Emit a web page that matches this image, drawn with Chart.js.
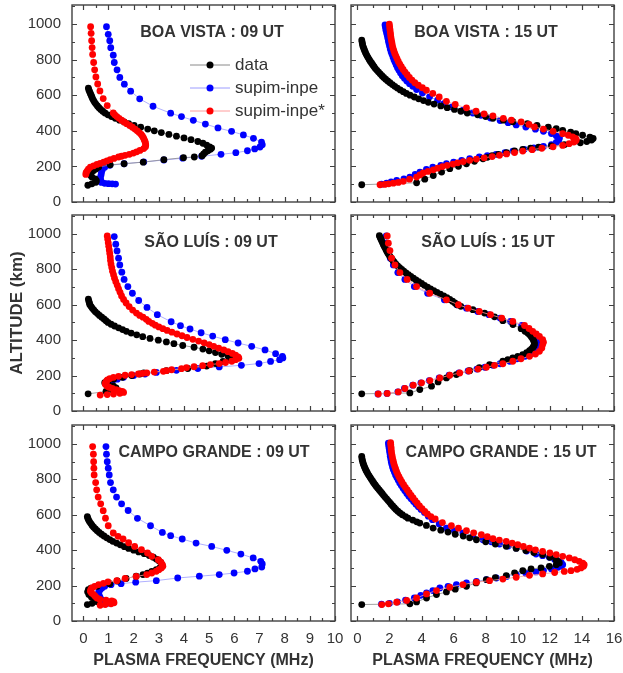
<!DOCTYPE html>
<html>
<head>
<meta charset="utf-8">
<title>Plasma frequency profiles</title>
<script src="https://cdn.jsdelivr.net/npm/chart.js@4.4.0/dist/chart.umd.min.js"></script>
<style>
  body { margin: 0; background: #fff; }
  #wrap { position: relative; width: 623px; height: 673px; }
  #wrap canvas { position: absolute; left: 0; top: 0; }
</style>
</head>
<body>
<div id="wrap"></div>
<script>
// ---- profiles: frequency (MHz) and altitude (km) ----

// Boa Vista 09 UT
const bv09DataAlt = [640,630,620,610,600,590,580,570,560,550,540,530,520,510,500,490,480,470,460,450,440,430,420,410,400,390,380,370,360,350,340,330,320,310,303,296,288,280,270,260,253,249,238,224,215,209,196,186,177,167,158,149,140,130,120,111,102,94];
const bv09DataFreq = [0.20,0.22,0.25,0.28,0.31,0.34,0.37,0.41,0.45,0.50,0.56,0.62,0.69,0.77,0.86,0.98,1.12,1.27,1.44,1.62,1.80,2.02,2.28,2.56,2.82,3.10,3.40,3.70,4.00,4.28,4.55,4.75,4.90,5.02,5.10,5.05,4.95,4.85,4.78,4.72,4.41,3.98,3.20,2.38,1.62,1.07,0.61,0.50,0.41,0.32,0.28,0.30,0.34,0.47,0.52,0.50,0.34,0.18];
const bv09SupAlt = [985,942,906,867,825,784,743,700,662,623,580,538,499,480,459,438,416,397,377,358,337,322,309,298,288,277,268,257,246,236,225,215,206,195,180,165,150,135,120,110,105,103,102,101];
const bv09SupFreq = [0.92,0.99,1.05,1.09,1.19,1.23,1.34,1.45,1.63,1.88,2.24,2.77,3.47,3.90,4.37,4.85,5.35,5.89,6.36,6.76,7.08,7.11,7.02,6.81,6.52,6.06,5.47,4.70,3.95,3.20,2.40,1.62,1.05,0.85,0.75,0.72,0.70,0.68,0.70,0.72,0.85,1.00,1.15,1.28];
const bv09StarAlt = [985,948,906,868,829,784,743,703,663,624,581,542,500,490,480,470,460,450,440,430,420,410,400,390,380,370,360,350,340,330,320,310,300,290,282,275,268,262,257,253,245,238,231,224,217,211,203,196,185,174,165,155];
const bv09StarFreq = [0.29,0.31,0.33,0.35,0.37,0.41,0.45,0.50,0.57,0.66,0.79,0.95,1.19,1.25,1.33,1.42,1.52,1.62,1.72,1.84,1.95,2.05,2.14,2.22,2.30,2.35,2.39,2.42,2.45,2.47,2.48,2.47,2.40,2.25,2.12,1.99,1.83,1.66,1.52,1.40,1.22,1.07,0.94,0.81,0.67,0.54,0.41,0.28,0.20,0.15,0.11,0.10];

// Boa Vista 15 UT
const bv15DataAlt = [910,900,890,880,870,860,850,840,830,820,810,800,790,780,770,760,750,740,730,720,710,700,690,680,670,660,650,640,630,620,610,600,590,580,570,560,550,540,530,520,510,500,490,480,470,460,451,440,430,420,412,403,393,384,375,365,357,348,340,333,322,315,308,302,296,287,277,268,260,251,243,229,215,201,187,168,149,128,108,97];
const bv15DataFreq = [0.27,0.29,0.31,0.33,0.37,0.41,0.45,0.50,0.55,0.61,0.67,0.74,0.81,0.89,0.96,1.04,1.12,1.22,1.32,1.42,1.53,1.64,1.76,1.89,2.03,2.18,2.33,2.49,2.67,2.86,3.05,3.28,3.55,3.82,4.12,4.42,4.78,5.20,5.60,6.05,6.45,6.85,7.50,8.00,8.45,9.10,9.69,10.60,11.20,11.90,12.40,12.80,13.30,13.62,14.04,14.50,14.70,14.60,14.30,13.90,12.90,12.10,11.30,10.80,10.31,9.80,9.30,8.80,8.40,8.10,7.83,7.30,6.80,6.30,5.76,5.25,4.73,4.20,3.69,0.27];
const bv15SupAlt = [995,980,965,950,935,920,905,890,875,860,845,830,815,800,785,770,755,740,725,710,695,680,665,650,632,612,591,572,553,534,516,500,487,472,458,446,433,421,409,397,385,372,360,347,335,322,312,304,296,286,277,268,260,253,243,234,224,215,206,196,183,168,155,140,130,121,113,106,100];
const bv15SupFreq = [1.72,1.75,1.78,1.82,1.86,1.90,1.93,1.97,2.01,2.05,2.10,2.16,2.22,2.28,2.35,2.42,2.50,2.59,2.69,2.80,2.93,3.08,3.25,3.45,3.69,4.05,4.50,5.00,5.40,5.90,6.60,7.20,7.70,8.30,8.90,9.40,9.90,10.50,11.10,11.60,12.10,12.40,12.60,12.55,12.40,12.10,11.60,11.00,10.40,9.70,9.20,8.65,8.10,7.60,7.00,6.50,6.00,5.55,5.20,4.70,4.30,3.90,3.60,3.27,2.90,2.45,2.10,1.82,1.50];
const bv15StarAlt = [1000,985,970,955,940,925,910,895,880,865,850,835,820,805,790,775,760,745,730,715,700,685,670,656,642,628,610,590,566,548,529,510,495,484,470,460,450,436,422,410,397,384,375,366,358,350,343,337,328,318,310,302,294,286,278,270,262,255,248,241,234,227,220,213,206,199,190,181,172,163,152,140,128,116,110,106,102,99,97];
const bv15StarFreq = [1.99,2.01,2.03,2.05,2.07,2.09,2.12,2.15,2.18,2.22,2.27,2.33,2.40,2.47,2.55,2.64,2.74,2.85,2.97,3.10,3.24,3.40,3.58,3.80,4.05,4.30,4.70,5.10,5.55,6.10,6.80,7.40,7.90,8.45,9.10,9.60,10.21,10.70,11.04,11.60,12.20,12.80,13.15,13.42,13.60,13.65,13.60,13.50,13.20,12.80,12.20,11.50,10.90,10.31,9.80,9.30,8.86,8.40,7.90,7.42,7.00,6.60,6.25,5.96,5.60,5.30,5.00,4.73,4.40,4.10,3.90,3.69,3.25,2.86,2.55,2.24,1.95,1.70,1.41];

// Sao Luis 09 UT
const sl09DataAlt = [632,620,610,600,590,580,570,560,550,540,530,520,510,500,490,480,470,460,450,440,430,420,410,400,390,380,370,360,350,340,330,320,310,300,290,280,268,254,240,228,215,209,200,190,180,170,160,150,140,130,120,110,97];
const sl09DataFreq = [0.20,0.22,0.24,0.26,0.31,0.36,0.42,0.48,0.56,0.64,0.73,0.82,0.90,0.98,1.10,1.24,1.40,1.56,1.71,1.90,2.12,2.36,2.65,2.98,3.30,3.60,3.95,4.40,4.75,5.00,5.25,5.50,5.75,5.90,5.80,5.55,5.25,4.90,4.15,3.30,2.40,2.25,1.92,1.55,1.20,0.95,0.85,1.00,1.20,1.30,1.15,0.90,0.19];
const sl09SupAlt = [985,942,904,863,825,784,743,703,665,624,585,544,504,482,463,442,423,403,384,365,345,324,309,300,290,280,268,258,249,240,230,218,209,200,190,180,168,158,150];
const sl09SupFreq = [1.23,1.29,1.34,1.40,1.45,1.53,1.62,1.77,1.95,2.20,2.53,2.94,3.49,3.86,4.24,4.68,5.14,5.64,6.15,6.69,7.22,7.64,7.91,7.93,7.80,7.44,6.98,6.28,5.40,4.55,3.70,2.90,2.45,2.00,1.60,1.35,1.15,1.05,1.10];
const sl09StarAlt = [989,970,950,930,910,890,870,850,830,810,790,770,750,730,710,690,670,650,630,610,590,570,553,540,530,518,506,495,485,475,465,455,445,435,425,415,405,395,385,375,365,355,345,335,325,315,305,298,290,281,274,268,262,256,250,245,239,233,228,224,220,215,212,209,206,202,196,190,183,176,168,158,149,140,134,127,120,115,110,105,100,96,93,90];
const sl09StarFreq = [0.95,0.97,0.99,1.01,1.03,1.05,1.07,1.08,1.10,1.13,1.16,1.20,1.24,1.29,1.35,1.40,1.46,1.52,1.60,1.70,1.82,1.96,2.11,2.24,2.37,2.50,2.60,2.74,2.86,3.00,3.16,3.33,3.52,3.72,3.92,4.12,4.35,4.58,4.80,5.00,5.18,5.38,5.58,5.75,5.92,6.05,6.15,6.18,6.05,5.90,5.65,5.40,5.05,4.74,4.40,4.10,3.90,3.51,3.30,3.18,2.82,2.52,2.35,2.19,1.92,1.66,1.40,1.20,1.05,0.96,0.92,0.87,0.88,0.95,1.02,1.15,1.30,1.42,1.55,1.60,1.45,1.20,0.95,0.67];

// Sao Luis 15 UT
const sl15DataAlt = [990,980,970,960,950,940,930,920,910,900,890,880,870,860,850,840,830,820,810,800,790,780,770,760,750,740,730,720,710,700,690,680,670,660,650,640,630,620,610,600,591,572,553,532,510,488,465,450,440,430,420,410,400,390,380,370,360,350,341,330,318,309,300,290,281,262,245,228,206,187,164,140,121,102,97];
const sl15DataFreq = [1.37,1.42,1.47,1.52,1.57,1.62,1.67,1.73,1.79,1.85,1.91,1.98,2.05,2.13,2.21,2.30,2.40,2.51,2.63,2.76,2.89,3.03,3.18,3.33,3.49,3.65,3.82,4.00,4.18,4.37,4.56,4.76,4.96,5.17,5.38,5.58,5.76,5.93,6.08,6.22,6.45,7.20,7.93,8.55,9.07,9.70,10.21,10.45,10.62,10.74,10.84,10.92,10.98,11.02,11.04,11.02,10.95,10.85,10.73,10.55,10.31,10.00,9.69,9.38,9.07,8.24,7.60,7.00,6.17,5.55,5.03,4.62,3.89,3.27,0.27];
const sl15SupAlt = [989,948,906,863,825,782,743,703,665,628,600,581,562,544,525,506,483,466,450,435,421,403,389,375,356,337,322,309,295,281,267,258,247,237,226,215,202,187,172,159,146,127,108,99,96];
const sl15SupFreq = [1.80,1.86,1.95,2.05,2.24,2.52,2.96,3.55,4.38,5.42,6.20,6.80,7.50,8.20,8.90,9.55,10.25,10.50,10.72,10.92,11.10,11.27,11.30,11.27,11.20,11.05,10.80,10.45,9.95,9.50,8.90,8.45,7.95,7.45,6.90,6.33,5.72,5.10,4.48,3.96,3.45,2.93,2.52,1.84,1.28];
const sl15StarAlt = [989,948,906,863,825,782,743,703,665,628,600,581,562,544,525,506,483,466,450,435,421,403,389,375,356,337,322,309,295,281,267,258,247,237,226,215,202,187,172,159,146,127,108,99,96];
const sl15StarFreq = [1.86,1.93,2.03,2.13,2.34,2.65,3.10,3.69,4.51,5.55,6.30,6.90,7.60,8.30,9.00,9.69,10.42,10.70,10.93,11.15,11.35,11.55,11.60,11.55,11.50,11.35,11.10,10.73,10.20,9.69,9.07,8.55,8.04,7.52,6.95,6.38,5.76,5.14,4.52,4.00,3.48,2.96,2.55,1.86,1.30];

// Campo Grande 09 UT
const cg09DataAlt = [590,580,570,560,550,540,530,520,510,500,490,480,470,460,450,440,430,420,410,400,390,380,370,360,350,340,330,320,310,300,290,280,270,262,253,240,226,211,196,185,177,165,150,135,120,110,100,93];
const cg09DataFreq = [0.16,0.18,0.21,0.25,0.30,0.35,0.41,0.48,0.55,0.63,0.72,0.82,0.93,1.05,1.17,1.32,1.47,1.63,1.80,2.00,2.20,2.42,2.62,2.78,2.90,3.00,3.08,3.12,3.10,3.04,2.90,2.72,2.55,2.37,2.10,1.70,1.35,1.05,0.55,0.30,0.20,0.17,0.22,0.32,0.46,0.52,0.35,0.16];
const cg09SupAlt = [985,942,900,863,825,782,741,700,662,624,580,538,500,482,463,440,421,399,378,356,337,322,305,294,281,271,262,253,243,228,219,211,205,196,187,175,164,150,135,120,108,100];
const cg09SupFreq = [0.90,0.92,0.95,0.99,1.03,1.08,1.19,1.32,1.52,1.78,2.15,2.67,3.14,3.47,3.93,4.48,5.10,5.70,6.26,6.75,7.05,7.11,7.09,6.82,6.52,5.99,5.40,4.61,3.75,2.90,2.08,1.50,1.10,0.85,0.74,0.66,0.61,0.62,0.66,0.72,0.80,0.95];
const cg09StarAlt = [985,942,900,863,825,782,741,700,662,623,581,538,497,478,463,442,421,403,384,365,346,332,318,309,300,290,281,271,262,252,240,228,221,213,206,196,187,178,168,158,149,140,130,122,118,114,109,103,97,93,89];
const cg09StarFreq = [0.37,0.40,0.41,0.42,0.43,0.49,0.53,0.59,0.69,0.79,0.88,0.99,1.19,1.38,1.58,1.80,2.04,2.31,2.55,2.72,2.98,3.08,3.14,3.16,3.10,3.00,2.90,2.72,2.52,2.10,1.66,1.33,0.98,0.80,0.61,0.45,0.34,0.30,0.28,0.33,0.41,0.47,0.54,0.66,0.90,1.13,1.20,1.22,1.10,0.87,0.67];

// Campo Grande 15 UT
const cg15DataAlt = [930,920,910,900,890,880,870,860,850,840,830,820,810,800,790,780,770,760,750,740,730,720,710,700,690,680,670,660,650,640,630,620,610,600,590,581,570,560,553,540,525,513,502,490,480,470,459,447,435,422,410,398,387,375,360,346,337,328,318,309,300,294,284,272,256,245,234,215,196,180,164,149,130,108,97,93];
const cg15DataFreq = [0.27,0.28,0.30,0.33,0.36,0.40,0.44,0.49,0.54,0.60,0.66,0.73,0.80,0.87,0.95,1.02,1.10,1.18,1.27,1.36,1.45,1.54,1.63,1.72,1.82,1.91,2.01,2.10,2.20,2.30,2.40,2.52,2.65,2.80,3.00,3.15,3.45,3.70,3.89,4.30,4.72,5.20,5.65,6.10,6.60,7.00,7.42,8.00,8.60,9.28,9.90,10.50,11.00,11.55,12.00,12.38,12.50,12.59,12.40,11.97,11.45,10.83,10.31,9.80,9.28,8.60,8.04,7.40,6.80,6.10,5.55,4.93,4.31,3.69,3.27,0.27];
const cg15SupAlt = [1005,990,975,960,945,930,915,900,885,870,855,840,825,810,795,780,765,750,735,720,705,690,675,660,645,630,613,592,572,548,525,510,497,478,459,447,435,423,412,395,378,369,360,348,337,328,318,310,303,294,285,277,270,262,252,243,234,224,215,206,196,187,172,159,145,130,118,108,100,95];
const cg15SupFreq = [1.93,1.95,1.98,2.00,2.03,2.05,2.08,2.11,2.15,2.19,2.24,2.31,2.38,2.46,2.55,2.64,2.74,2.85,2.96,3.08,3.21,3.35,3.50,3.65,3.80,3.97,4.18,4.42,4.68,5.10,5.55,6.05,6.58,7.20,7.83,8.35,8.86,9.40,9.90,10.55,11.14,11.55,11.97,12.30,12.59,12.72,12.80,12.70,12.50,12.10,11.60,11.14,10.50,9.90,9.30,8.66,8.05,7.42,6.80,6.17,5.65,5.14,4.70,4.31,3.95,3.55,3.00,2.50,2.00,1.50];
const cg15StarAlt = [1008,995,980,965,950,935,920,905,890,875,860,845,830,815,800,785,770,755,740,725,710,695,680,665,650,635,619,605,590,576,556,538,524,510,498,487,476,465,457,450,440,431,421,412,402,393,384,375,365,356,346,337,327,318,309,300,292,284,280,274,266,258,247,237,228,219,206,191,172,153,130,116,106,97,93];
const cg15StarFreq = [2.07,2.08,2.10,2.11,2.13,2.16,2.19,2.23,2.27,2.32,2.38,2.44,2.51,2.59,2.68,2.77,2.88,2.99,3.11,3.23,3.35,3.47,3.60,3.73,3.87,4.03,4.20,4.36,4.58,4.85,5.30,5.86,6.30,6.80,7.25,7.73,8.10,8.45,8.85,9.28,9.65,10.00,10.35,10.73,11.10,11.55,12.00,12.40,12.80,13.21,13.55,13.83,14.05,14.14,14.10,13.94,13.70,13.32,12.90,12.30,11.55,10.73,9.90,9.07,8.24,7.42,6.58,5.76,4.93,4.31,3.69,3.07,2.45,1.93,1.52];

const seriesNames = ['data', 'supim-inpe', 'supim-inpe*'];
const panelTitles = ['BOA VISTA : 09 UT', 'BOA VISTA : 15 UT', 'SÃO LUÍS : 09 UT', 'SÃO LUÍS : 15 UT', 'CAMPO GRANDE : 09 UT', 'CAMPO GRANDE : 15 UT'];
const altTicks = [0, 200, 400, 600, 800, 1000];

// ---- styling / layout ----
const dotColors = ['#000000', '#0000ff', '#ff0000'];
const lineColors = ['#8a8a8a', '#9c9cff', '#ff9c9c'];
const drawOrder = [1, 2, 0];   // red on top, blue underneath

const PAGE_W = 623, PAGE_H = 673;
const Y_AXIS_W = 72, X_AXIS_H = 50;
const FONT = '"Liberation Sans", Arial, sans-serif';

const columns = [
  { left: 72, right: 335, min: -0.45, max: 10, step: 1, minor: 0.5 },
  { left: 351, right: 614, min: -0.4, max: 16, step: 2, minor: 1 }
];
const rows = [
  { top: 5, bottom: 202 },
  { top: 215, bottom: 411 },
  { top: 425, bottom: 621 }
];
const ALT_MAX = 1107;

const panels = [
  { row: 0, col: 0, titleDx: 140, legend: true,  series: [[bv09DataFreq, bv09DataAlt], [bv09SupFreq, bv09SupAlt], [bv09StarFreq, bv09StarAlt]] },
  { row: 0, col: 1, titleDx: 135, legend: false, series: [[bv15DataFreq, bv15DataAlt], [bv15SupFreq, bv15SupAlt], [bv15StarFreq, bv15StarAlt]] },
  { row: 1, col: 0, titleDx: 139, legend: false, series: [[sl09DataFreq, sl09DataAlt], [sl09SupFreq, sl09SupAlt], [sl09StarFreq, sl09StarAlt]] },
  { row: 1, col: 1, titleDx: 137, legend: false, series: [[sl15DataFreq, sl15DataAlt], [sl15SupFreq, sl15SupAlt], [sl15StarFreq, sl15StarAlt]] },
  { row: 2, col: 0, titleDx: 142, legend: false, series: [[cg09DataFreq, cg09DataAlt], [cg09SupFreq, cg09SupAlt], [cg09StarFreq, cg09StarAlt]] },
  { row: 2, col: 1, titleDx: 150, legend: false, series: [[cg15DataFreq, cg15DataAlt], [cg15SupFreq, cg15SupAlt], [cg15StarFreq, cg15StarAlt]] }
];

// frame, inward ticks on all four sides, panel title and legend
const panelDeco = {
  id: 'panelDeco',
  afterDatasetsDraw(chart, args, opts) {
    const { ctx, chartArea: a, scales: { x, y } } = chart;
    ctx.save();
    ctx.strokeStyle = '#404040';
    ctx.lineWidth = 1.2;
    ctx.beginPath();
    const nx = Math.floor(x.max / opts.xMinor + 1e-6);
    for (let k = 0; k <= nx; k++) {
      const v = k * opts.xMinor;
      const px = Math.round(x.getPixelForValue(v)) + 0.5;
      const len = (Math.abs(v / opts.xStep - Math.round(v / opts.xStep)) < 1e-6) ? 5 : 3;
      ctx.moveTo(px, a.bottom); ctx.lineTo(px, a.bottom - len);
      ctx.moveTo(px, a.top); ctx.lineTo(px, a.top + len);
    }
    for (let v = 0; v <= y.max; v += 100) {
      const py = Math.round(y.getPixelForValue(v)) + 0.5;
      const len = (v % 200 === 0) ? 5 : 3;
      ctx.moveTo(a.left, py); ctx.lineTo(a.left + len, py);
      ctx.moveTo(a.right, py); ctx.lineTo(a.right - len, py);
    }
    ctx.stroke();
    ctx.lineWidth = 1.4;
    ctx.strokeRect(a.left, a.top, a.right - a.left, a.bottom - a.top);

    ctx.fillStyle = '#333';
    ctx.font = 'bold 16px ' + FONT;
    ctx.textAlign = 'center';
    ctx.textBaseline = 'middle';
    ctx.fillText(opts.title, a.left + opts.titleDx, a.top + 28);

    if (opts.legend) {
      ctx.font = '17px ' + FONT;
      ctx.textAlign = 'left';
      seriesNames.forEach((name, i) => {
        const ly = a.top + 60 + i * 23;
        ctx.strokeStyle = lineColors[i];
        ctx.lineWidth = 1;
        ctx.beginPath();
        ctx.moveTo(a.left + 118, ly);
        ctx.lineTo(a.left + 158, ly);
        ctx.stroke();
        ctx.fillStyle = dotColors[i];
        ctx.beginPath();
        ctx.arc(a.left + 138, ly, 3.5, 0, Math.PI * 2);
        ctx.fill();
        ctx.fillStyle = '#333';
        ctx.fillText(name, a.left + 163, ly);
      });
    }
    ctx.restore();
  }
};

const wrap = document.getElementById('wrap');

panels.forEach((p, idx) => {
  const col = columns[p.col];
  const row = rows[p.row];
  const canvas = document.createElement('canvas');
  canvas.width = PAGE_W;
  canvas.height = PAGE_H;
  wrap.appendChild(canvas);

  const datasets = p.series.map((s, i) => ({
    label: seriesNames[i],
    data: s[0].map((f, k) => ({ x: f, y: s[1][k] })),
    showLine: true,
    borderColor: lineColors[i],
    borderWidth: 0.8,
    backgroundColor: dotColors[i],
    pointBackgroundColor: dotColors[i],
    pointBorderWidth: 0,
    pointRadius: 3.4,
    order: drawOrder[i]
  }));

  new Chart(canvas, {
    type: 'scatter',
    data: { datasets },
    options: {
      responsive: false,
      animation: false,
      events: [],
      layout: {
        autoPadding: false,
        padding: {
          left: col.left - Y_AXIS_W,
          right: PAGE_W - col.right,
          top: row.top,
          bottom: PAGE_H - row.bottom - X_AXIS_H
        }
      },
      plugins: {
        legend: { display: false },
        tooltip: { enabled: false },
        panelDeco: {
          title: panelTitles[idx],
          titleDx: p.titleDx,
          legend: p.legend,
          xMinor: col.minor,
          xStep: col.step
        }
      },
      scales: {
        x: {
          type: 'linear',
          position: 'bottom',
          min: col.min,
          max: col.max,
          grid: { display: false, drawTicks: false },
          border: { display: false },
          ticks: {
            display: p.row === 2,
            stepSize: col.step,
            includeBounds: false,
            autoSkip: false,
            maxRotation: 0,
            padding: 9,
            color: '#333',
            font: { size: 15, family: FONT },
            callback: v => String(v)
          },
          title: {
            display: p.row === 2,
            text: 'PLASMA FREQUENCY (MHz)',
            color: '#333',
            font: { size: 16, weight: 'bold', family: FONT },
            padding: { top: 0, bottom: 1 }
          },
          afterFit(s) { s.height = X_AXIS_H; s.paddingLeft = 0; s.paddingRight = 0; }
        },
        y: {
          type: 'linear',
          position: 'left',
          min: 0,
          max: ALT_MAX,
          grid: { display: false, drawTicks: false },
          border: { display: false },
          afterBuildTicks(s) { s.ticks = altTicks.map(v => ({ value: v })); },
          ticks: {
            display: p.col === 0,
            autoSkip: false,
            padding: 11,
            color: '#333',
            font: { size: 15, family: FONT },
            callback: v => String(v)
          },
          title: {
            display: p.col === 0 && p.row === 1,
            text: 'ALTITUDE (km)',
            color: '#333',
            font: { size: 17, weight: 'bold', family: FONT },
            padding: { top: 7, bottom: 0 }
          },
          afterFit(s) { s.width = Y_AXIS_W; s.paddingTop = 0; s.paddingBottom = 0; }
        }
      }
    },
    plugins: [panelDeco]
  });
});
</script>
</body>
</html>
